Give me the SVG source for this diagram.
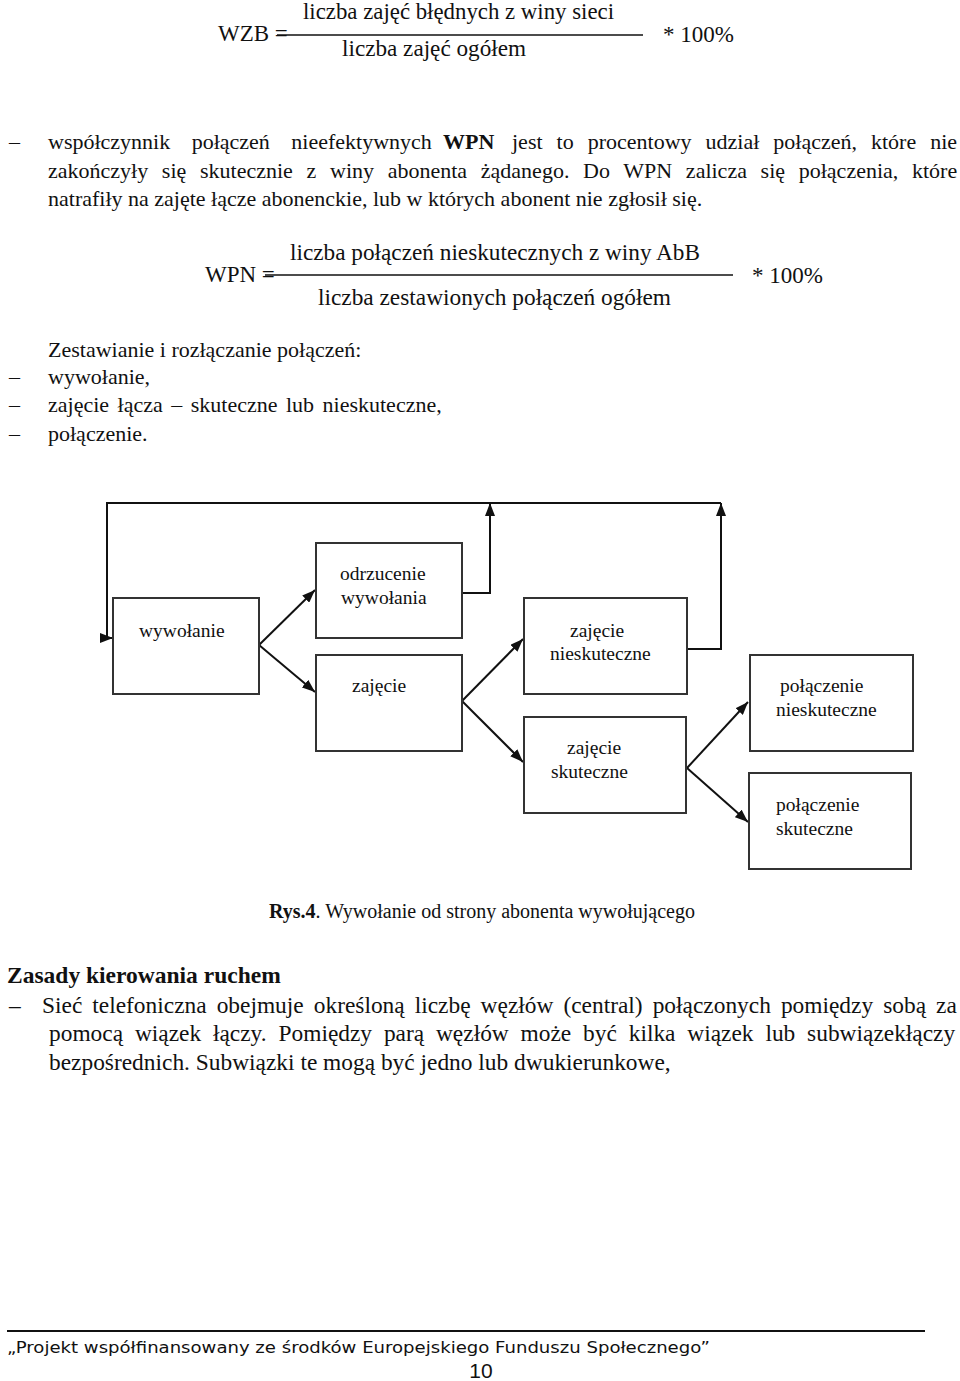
<svg xmlns="http://www.w3.org/2000/svg" width="960" height="1381" viewBox="0 0 960 1381">
<style>
text{font-family:"Liberation Serif","Times New Roman",serif;fill:#111;}
.b{font-size:22px;}
.z{font-size:23.4px;}
.f{font-size:23px;}
.n{font-size:19.5px;}
.bold{font-weight:bold;}
.box{fill:#fff;stroke:#333;stroke-width:2;}
.con{fill:none;stroke:#111;stroke-width:2;}
.rule{stroke:#111;stroke-width:1.5;}
.foot{font-family:"DejaVu Sans","Verdana",sans-serif;font-size:16px;}
</style>
<defs>
<marker id="ah" viewBox="0 0 13 10" refX="13" refY="5" markerWidth="13" markerHeight="10" markerUnits="userSpaceOnUse" orient="auto">
<path d="M0,0 L13,5 L0,10 z" fill="#111"/>
</marker>
</defs>
<rect width="960" height="1381" fill="#fff"/>

<!-- WZB formula -->
<g id="wzb">
<text class="f" x="218" y="41">WZB =</text>
<line class="rule" x1="277" y1="35" x2="643" y2="35"/>
<text class="f" x="303" y="19" textLength="311" lengthAdjust="spacingAndGlyphs">liczba zajęć błędnych z winy sieci</text>
<text class="f" x="342" y="56" textLength="184" lengthAdjust="spacingAndGlyphs">liczba zajęć ogółem</text>
<text class="f" x="663" y="42">* 100%</text>
</g>

<!-- paragraph WPN -->
<g id="para1">
<text class="b" x="9" y="149">–</text>
<text class="b" x="48" y="149" style="word-spacing:16px">współczynnik połączeń nieefektywnych</text>
<text class="b bold" x="443" y="149">WPN</text>
<text class="b" x="512" y="149" style="word-spacing:8.5px">jest to procentowy udział połączeń, które nie</text>
<text class="b" x="48" y="177.5" style="word-spacing:8.2px">zakończyły się skutecznie z winy abonenta żądanego. Do WPN zalicza się połączenia, które</text>
<text class="b" x="48" y="206">natrafiły na zajęte łącze abonenckie, lub w których abonent nie zgłosił się.</text>
</g>

<!-- WPN formula -->
<g id="wpn">
<text class="f" x="205" y="282">WPN =</text>
<line class="rule" x1="265" y1="275" x2="733" y2="275"/>
<text class="f" x="290" y="260" textLength="410" lengthAdjust="spacingAndGlyphs">liczba połączeń nieskutecznych z winy AbB</text>
<text class="f" x="318" y="305" textLength="353" lengthAdjust="spacingAndGlyphs">liczba zestawionych połączeń ogółem</text>
<text class="f" x="752" y="283">* 100%</text>
</g>

<!-- list -->
<g id="list">
<text class="b" x="48" y="357">Zestawianie i rozłączanie połączeń:</text>
<text class="b" x="9" y="384">–</text>
<text class="b" x="48" y="384">wywołanie,</text>
<text class="b" x="9" y="412">–</text>
<text class="b" x="48" y="412" style="word-spacing:3px">zajęcie łącza – skuteczne lub nieskuteczne,</text>
<text class="b" x="9" y="441">–</text>
<text class="b" x="48" y="441">połączenie.</text>
</g>

<!-- connectors -->
<g id="connectors">
<path class="con" d="M462,593 H490 V503" marker-end="url(#ah)"/>
<path class="con" d="M687,649 H721 V503" marker-end="url(#ah)"/>
<path class="con" d="M721,503 H107 V638 H113" marker-end="url(#ah)"/>
<line class="con" x1="259" y1="645" x2="315" y2="590" marker-end="url(#ah)"/>
<line class="con" x1="259" y1="645" x2="315" y2="692" marker-end="url(#ah)"/>
<line class="con" x1="462" y1="701" x2="523" y2="639" marker-end="url(#ah)"/>
<line class="con" x1="462" y1="701" x2="523" y2="762" marker-end="url(#ah)"/>
<line class="con" x1="687" y1="768" x2="748" y2="702" marker-end="url(#ah)"/>
<line class="con" x1="687" y1="768" x2="748" y2="822" marker-end="url(#ah)"/>
</g>

<!-- nodes -->
<g id="n-wywolanie">
<rect class="box" x="113" y="598" width="146" height="96"/>
<text class="n" x="139" y="637">wywołanie</text>
</g>
<g id="n-odrzucenie">
<rect class="box" x="316" y="543" width="146" height="95"/>
<text class="n" x="340" y="580">odrzucenie</text>
<text class="n" x="341" y="604">wywołania</text>
</g>
<g id="n-zajecie">
<rect class="box" x="316" y="655" width="146" height="96"/>
<text class="n" x="352" y="692">zajęcie</text>
</g>
<g id="n-zajecie-nieskuteczne">
<rect class="box" x="524" y="598" width="163" height="96"/>
<text class="n" x="570" y="637">zajęcie</text>
<text class="n" x="550" y="660">nieskuteczne</text>
</g>
<g id="n-zajecie-skuteczne">
<rect class="box" x="524" y="717" width="162" height="96"/>
<text class="n" x="567" y="754">zajęcie</text>
<text class="n" x="551" y="778">skuteczne</text>
</g>
<g id="n-polaczenie-nieskuteczne">
<rect class="box" x="750" y="655" width="163" height="96"/>
<text class="n" x="780" y="692">połączenie</text>
<text class="n" x="776" y="716">nieskuteczne</text>
</g>
<g id="n-polaczenie-skuteczne">
<rect class="box" x="749" y="773" width="162" height="96"/>
<text class="n" x="776" y="811">połączenie</text>
<text class="n" x="776" y="835">skuteczne</text>
</g>

<!-- caption -->
<g id="caption">
<text x="269" y="918" style="font-size:20px"><tspan class="bold">Rys.4</tspan>. Wywołanie od strony abonenta wywołującego</text>
</g>

<!-- section -->
<g id="para2">
<text class="bold" x="7" y="983" style="font-size:23.5px">Zasady kierowania ruchem</text>
<text class="z" x="9" y="1013">–</text>
<text class="z" x="42" y="1013" style="word-spacing:4.2px">Sieć telefoniczna obejmuje określoną liczbę węzłów (central) połączonych pomiędzy sobą za</text>
<text class="z" x="49" y="1041" style="word-spacing:6px">pomocą wiązek łączy. Pomiędzy parą węzłów może być kilka wiązek lub subwiązekłączy</text>
<text class="z" x="49" y="1069.5">bezpośrednich. Subwiązki te mogą być jedno lub dwukierunkowe,</text>
</g>

<!-- footer -->
<g id="footer">
<line x1="7" y1="1331" x2="925" y2="1331" stroke="#111" stroke-width="2"/>
<text class="foot" x="7" y="1353" textLength="703" lengthAdjust="spacingAndGlyphs">„Projekt współfinansowany ze środków Europejskiego Funduszu Społecznego”</text>
<text x="481" y="1378" text-anchor="middle" style="font-family:'Liberation Sans',Arial,sans-serif;font-size:21px">10</text>
</g>
</svg>
